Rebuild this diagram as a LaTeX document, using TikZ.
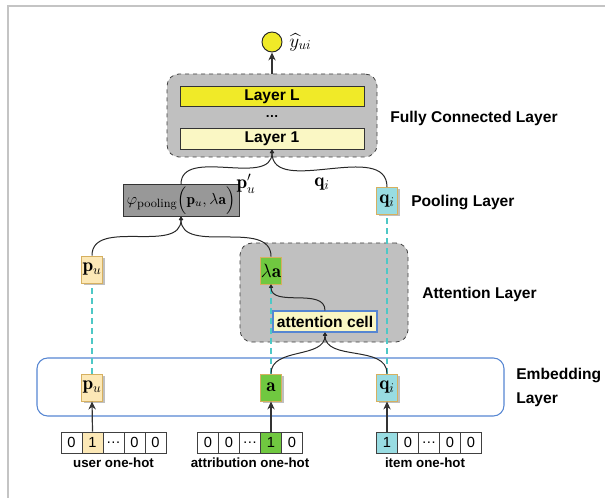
\documentclass[tikz,border=0pt]{standalone}
\usepackage{amsmath}
\usepackage{amssymb}
\usepackage{fontspec}
\setsansfont{Liberation Sans}
\usetikzlibrary{arrows.meta,positioning,shadows}

\definecolor{framegray}{RGB}{196,196,196}
\definecolor{boxgray}{RGB}{192,192,192}
\definecolor{poolgray}{RGB}{152,152,152}
\definecolor{ylw}{RGB}{240,234,40}
\definecolor{paleylw}{RGB}{250,247,196}
\definecolor{pufill}{RGB}{252,232,182}
\definecolor{afill}{RGB}{112,200,64}
\definecolor{qfill}{RGB}{152,220,226}
\definecolor{vecedge}{RGB}{214,176,96}
\definecolor{embblue}{RGB}{86,134,210}
\definecolor{dashcyan}{RGB}{78,200,198}
\definecolor{wirecol}{RGB}{40,40,40}

\pgfdeclarelayer{bg}
\pgfdeclarelayer{mid}
\pgfsetlayers{bg,mid,main}

\tikzset{
  lbl/.style={font=\sffamily\bfseries\fontsize{11.7}{18}\selectfont, anchor=west, align=left, inner sep=0pt},
  grpbox/.style={draw=black!75, dashed, fill=boxgray, rounded corners=9pt, line width=0.6pt},
  fcrow/.style={draw=black!80, line width=0.7pt, minimum width=138pt, minimum height=15.5pt, inner sep=0pt, font=\sffamily\bfseries\fontsize{11.7}{14}\selectfont},
  vecbox/.style={draw=vecedge, line width=0.7pt, minimum width=15.75pt, minimum height=20.25pt, inner sep=0pt, font=\Large, drop shadow={shadow xshift=1.5pt, shadow yshift=-1.5pt, fill=black!25, opacity=1}},
  cell/.style={draw=black!75, line width=0.6pt, minimum size=15.75pt, inner sep=0pt, font=\sffamily\fontsize{11}{13}\selectfont},
  hotlbl/.style={font=\sffamily\bfseries\fontsize{10}{12}\selectfont, inner sep=0pt},
  wire/.style={draw=wirecol, line width=0.75pt, -{Latex[round,length=3pt,width=4pt]}},
  feed/.style={draw=black!80, line width=0.9pt, -{Stealth[length=6pt,width=5.5pt]}},
  tie/.style={draw=dashcyan, line width=1.5pt, dash pattern=on 4.5pt off 3pt},
}

\begin{document}
\begin{tikzpicture}[x=0.75pt,y=-0.75pt]
\useasboundingbox (0,0) rectangle (605,498);

\draw[framegray, line width=1.5pt] (8,498) -- (8,6) -- (605,6);

\coordinate (fcc) at (272,115.5);
\coordinate (attc) at (324,292.5);
\coordinate (embc) at (270.5,387);

% grey groups and the embedding frame
\begin{pgfonlayer}{bg}
\node[grpbox, minimum width=157.5pt, minimum height=62.25pt] (fc) at (fcc) {};
\node[grpbox, minimum width=126pt, minimum height=74.25pt] (att) at (attc) {};
\node[draw=embblue, line width=0.8pt, rounded corners=8pt, minimum width=350.25pt, minimum height=43.5pt] (emb) at (embc) {};
\end{pgfonlayer}

\node[circle, draw=black!85, fill=ylw, line width=0.7pt, minimum size=15pt, inner sep=0pt] (yhat) at (272,42) {};
\node[right=5pt of yhat, inner sep=0pt, font=\Large] (yhatlbl) {$\widehat{y}_{ui}$};
\draw[feed] (fc.north) -- (yhat.south);

\node[fcrow, fill=ylw] (layerL) at (272,96.5) {Layer L};
\node[inner sep=0pt] (vdots) at (272,117) {\sffamily\bfseries\dots};
\node[fcrow, fill=paleylw] (layer1) at (272,139) {Layer 1};

\node[draw=black!80, fill=poolgray, line width=0.7pt, minimum width=87pt, minimum height=20.25pt, inner sep=1pt, font=\fontsize{11.5}{13}\selectfont] (pool) at (181,200.5) {$\varphi_{\mbox{\small pooling}}\Bigl(\mathbf{p}_u,\lambda\mathbf{a}\Bigr)$};
\node[vecbox, fill=qfill] (qpool) at (387,201) {$\mathbf{q}_i$};
\node[vecbox, fill=pufill] (pmid) at (92,269.5) {$\mathbf{p}_u$};
\node[vecbox, fill=afill] (la) at (271,270.5) {$\lambda\mathbf{a}$};

\node[draw=embblue, fill=paleylw, line width=0.8pt, minimum width=78pt, minimum height=15.75pt, inner sep=0pt, font=\sffamily\bfseries\fontsize{11.7}{14}\selectfont] (cellatt) at (325,321.5) {attention cell};

\node[vecbox, fill=pufill] (pemb) at (92,387.5) {$\mathbf{p}_u$};
\node[vecbox, fill=afill] (aemb) at (271,387.5) {$\mathbf{a}$};
\node[vecbox, fill=qfill] (qemb) at (387,387.5) {$\mathbf{q}_i$};

% one-hot inputs
\foreach \v/\c [count=\k] in {0/white,1/pufill,\dots/white,0/white,0/white}
  \node[cell, fill=\c] (u\k) at (50.5+21*\k,442.5) {\v};
\foreach \v/\c [count=\k] in {0/white,0/white,\dots/white,1/afill,0/white}
  \node[cell, fill=\c] (at\k) at (187+21*\k,442.5) {\v};
\foreach \v/\c [count=\k] in {1/qfill,0/white,\dots/white,0/white,0/white}
  \node[cell, fill=\c] (it\k) at (366+21*\k,442.5) {\v};

\node[hotlbl, below=3pt of u3] (ulbl) {user one-hot};
\node[hotlbl, below=3pt of at3] (atlbl) {attribution one-hot};
\node[hotlbl, below=3pt of it3, xshift=-3pt] (itlbl) {item one-hot};

\node[lbl] (fclbl) at (390,118) {Fully Connected Layer};
\node[lbl] (poollbl) at (411,203) {Pooling Layer};
\node[lbl] (attlbl) at (422,294) {Attention Layer};
\node[lbl] (emblbl) at (516,387) {Embedding\\Layer};

\draw[feed] (u2.north) -- (pemb.south);
\draw[feed] (at4.north) -- (aemb.south);
\draw[feed] (it1.north) -- (qemb.south);

\begin{pgfonlayer}{mid}
\draw[tie] (pemb.north) -- (pmid.south);
\draw[tie] (aemb.north) -- (la.south);
\draw[tie] (qemb.north) -- (qpool.south);
\end{pgfonlayer}

\draw[wire] (aemb.north) to[out=90,in=-90] (cellatt.south);
\draw[wire] (qemb.north) to[out=90,in=-90] (cellatt.south);
\draw[wire] (cellatt.north) to[out=90,in=-90] (la.south);
\draw[wire] (pmid.north) to[out=90,in=-90] (pool.south);
\draw[wire] (la.north) to[out=90,in=-90] (pool.south);
\draw[wire] (pool.north) to[out=90,in=-90] (layer1.south);
\draw[wire] (qpool.north) to[out=90,in=-90] (layer1.south);

\node[font=\Large] (plbl) at (246,184) {$\mathbf{p}'_u$};
\node[font=\Large] (qlbl) at (322,184) {$\mathbf{q}_i$};

\end{tikzpicture}
\end{document}
